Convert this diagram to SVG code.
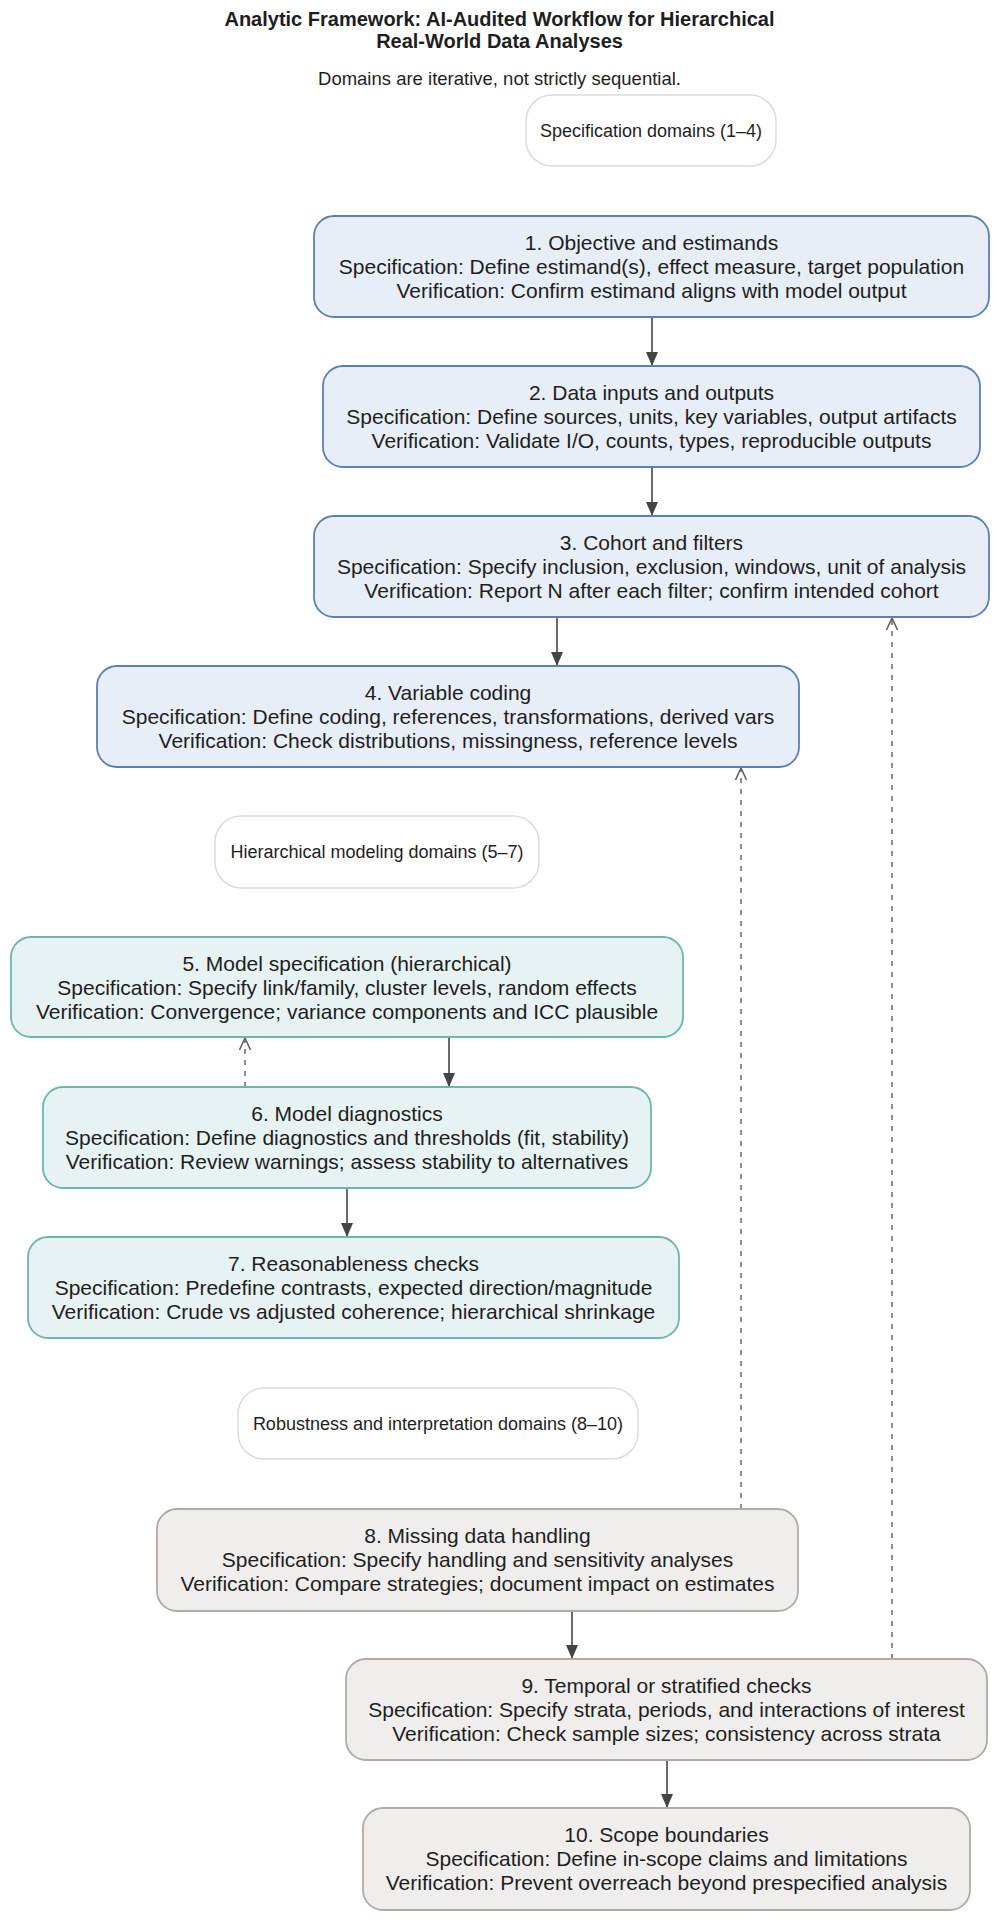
<svg xmlns="http://www.w3.org/2000/svg" width="999" height="1921" viewBox="0 0 999 1921">
<defs>
<style>
text{font-family:"Liberation Sans",Arial,Helvetica,sans-serif;fill:#1e1e1e}
.t{font-size:21px;text-anchor:middle}
.title{font-size:20px;font-weight:bold;text-anchor:middle}
.sub{font-size:18.5px;text-anchor:middle}
.lab{font-size:18px;text-anchor:middle}
.blue{fill:#e8eef7;stroke:#5b80b3;stroke-width:1.8}
.teal{fill:#e6f3f2;stroke:#70b4ac;stroke-width:1.8}
.gray{fill:#efeeed;stroke:#b2aaa6;stroke-width:1.8}
.lbox{fill:#ffffff;stroke:#dcdcdc;stroke-width:1.5}
.solid{stroke:#444;stroke-width:1.6;fill:none}
.dash{stroke:#5e5e5e;stroke-width:1.4;fill:none;stroke-dasharray:5,6}
</style>
<marker id="arr" viewBox="0 0 14 12" refX="14" refY="6" markerWidth="14" markerHeight="12" markerUnits="userSpaceOnUse" orient="auto">
<path d="M0,0 L14,6 L0,12 z" fill="#444"/>
</marker>
<marker id="vee" viewBox="0 0 13 12" refX="12" refY="6" markerWidth="13" markerHeight="12" markerUnits="userSpaceOnUse" orient="auto">
<path d="M0,0.5 L12,6 L0,11.5" fill="none" stroke="#5e5e5e" stroke-width="1.5"/>
</marker>
</defs>
<rect x="0" y="0" width="999" height="1921" fill="#ffffff"/>

<g id="title">
<text class="title" x="499.5" y="26">Analytic Framework: AI-Audited Workflow for Hierarchical</text>
<text class="title" x="499.5" y="48">Real-World Data Analyses</text>
<text class="sub" x="499.5" y="85">Domains are iterative, not strictly sequential.</text>
</g>

<g id="connectors">
<line class="solid" x1="652" y1="317" x2="652" y2="366" marker-end="url(#arr)"/>
<line class="solid" x1="652" y1="467" x2="652" y2="516" marker-end="url(#arr)"/>
<line class="solid" x1="557" y1="617" x2="557" y2="666" marker-end="url(#arr)"/>
<line class="solid" x1="449" y1="1037" x2="449" y2="1087" marker-end="url(#arr)"/>
<line class="solid" x1="347" y1="1188" x2="347" y2="1237" marker-end="url(#arr)"/>
<line class="solid" x1="572" y1="1611" x2="572" y2="1659" marker-end="url(#arr)"/>
<line class="solid" x1="667" y1="1760" x2="667" y2="1808" marker-end="url(#arr)"/>
<line class="dash" x1="245" y1="1087" x2="245" y2="1038" marker-end="url(#vee)"/>
<line class="dash" x1="741" y1="1509" x2="741" y2="768" marker-end="url(#vee)"/>
<line class="dash" x1="892" y1="1659" x2="892" y2="618" marker-end="url(#vee)"/>
</g>

<g id="label-spec">
<rect class="lbox" x="526" y="95" width="250" height="71" rx="26"/>
<text class="lab" x="651" y="137">Specification domains (1–4)</text>
</g>

<g id="n1">
<rect class="blue" x="314" y="216" width="675" height="101" rx="20"/>
<text class="t" x="651.5" y="250">1. Objective and estimands</text>
<text class="t" x="651.5" y="274">Specification: Define estimand(s), effect measure, target population</text>
<text class="t" x="651.5" y="298">Verification: Confirm estimand aligns with model output</text>
</g>

<g id="n2">
<rect class="blue" x="323" y="366" width="657" height="101" rx="20"/>
<text class="t" x="651.5" y="400">2. Data inputs and outputs</text>
<text class="t" x="651.5" y="424">Specification: Define sources, units, key variables, output artifacts</text>
<text class="t" x="651.5" y="448">Verification: Validate I/O, counts, types, reproducible outputs</text>
</g>

<g id="n3">
<rect class="blue" x="314" y="516" width="675" height="101" rx="20"/>
<text class="t" x="651.5" y="550">3. Cohort and filters</text>
<text class="t" x="651.5" y="574">Specification: Specify inclusion, exclusion, windows, unit of analysis</text>
<text class="t" x="651.5" y="598">Verification: Report N after each filter; confirm intended cohort</text>
</g>

<g id="n4">
<rect class="blue" x="97" y="666" width="702" height="101" rx="20"/>
<text class="t" x="448" y="700">4. Variable coding</text>
<text class="t" x="448" y="724">Specification: Define coding, references, transformations, derived vars</text>
<text class="t" x="448" y="748">Verification: Check distributions, missingness, reference levels</text>
</g>

<g id="label-hier">
<rect class="lbox" x="215" y="816" width="324" height="72" rx="26"/>
<text class="lab" x="377" y="858">Hierarchical modeling domains (5–7)</text>
</g>

<g id="n5">
<rect class="teal" x="11" y="937" width="672" height="100" rx="20"/>
<text class="t" x="347" y="971">5. Model specification (hierarchical)</text>
<text class="t" x="347" y="995">Specification: Specify link/family, cluster levels, random effects</text>
<text class="t" x="347" y="1019">Verification: Convergence; variance components and ICC plausible</text>
</g>

<g id="n6">
<rect class="teal" x="43" y="1087" width="608" height="101" rx="20"/>
<text class="t" x="347" y="1121">6. Model diagnostics</text>
<text class="t" x="347" y="1145">Specification: Define diagnostics and thresholds (fit, stability)</text>
<text class="t" x="347" y="1169">Verification: Review warnings; assess stability to alternatives</text>
</g>

<g id="n7">
<rect class="teal" x="28" y="1237" width="651" height="101" rx="20"/>
<text class="t" x="353.5" y="1271">7. Reasonableness checks</text>
<text class="t" x="353.5" y="1295">Specification: Predefine contrasts, expected direction/magnitude</text>
<text class="t" x="353.5" y="1319">Verification: Crude vs adjusted coherence; hierarchical shrinkage</text>
</g>

<g id="label-robust">
<rect class="lbox" x="238" y="1388" width="400" height="71" rx="26"/>
<text class="lab" x="438" y="1430">Robustness and interpretation domains (8–10)</text>
</g>

<g id="n8">
<rect class="gray" x="157" y="1509" width="641" height="102" rx="20"/>
<text class="t" x="477.5" y="1543">8. Missing data handling</text>
<text class="t" x="477.5" y="1567">Specification: Specify handling and sensitivity analyses</text>
<text class="t" x="477.5" y="1591">Verification: Compare strategies; document impact on estimates</text>
</g>

<g id="n9">
<rect class="gray" x="346" y="1659" width="641" height="101" rx="20"/>
<text class="t" x="666.5" y="1693">9. Temporal or stratified checks</text>
<text class="t" x="666.5" y="1717">Specification: Specify strata, periods, and interactions of interest</text>
<text class="t" x="666.5" y="1741">Verification: Check sample sizes; consistency across strata</text>
</g>

<g id="n10">
<rect class="gray" x="363" y="1808" width="607" height="102" rx="20"/>
<text class="t" x="666.5" y="1842">10. Scope boundaries</text>
<text class="t" x="666.5" y="1866">Specification: Define in-scope claims and limitations</text>
<text class="t" x="666.5" y="1890">Verification: Prevent overreach beyond prespecified analysis</text>
</g>
</svg>
